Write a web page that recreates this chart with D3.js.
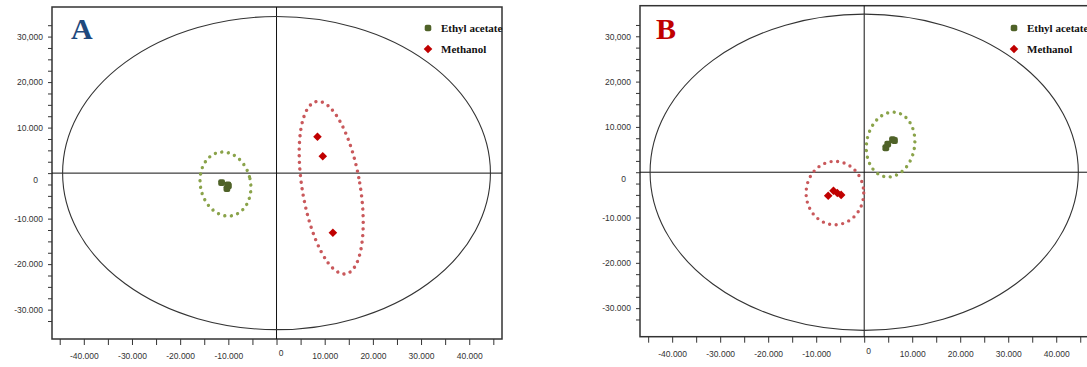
<!DOCTYPE html>
<html>
<head>
<meta charset="utf-8">
<script src="https://cdn.jsdelivr.net/npm/d3@7"></script>
<style>
  html, body { margin: 0; padding: 0; background: #fff; }
  svg { display: block; }
  .tick text { font-family: "Liberation Sans", Arial, sans-serif; font-size: 8.5px; fill: #333; }
  .tick line { stroke: #333; }
</style>
</head>
<body>
<div id="chart"></div>
<script>
// Series / legend
var seriesNames = ['Ethyl acetate', 'Methanol'];

// Panel A scores
var aEthylX = [-11400, -10100, -10300, -10000];
var aEthylY = [-2100, -2600, -3400, -2800];
var aMethX = [8500, 9600, 11700];
var aMethY = [8000, 3700, -13100];

// Panel B scores
var bEthylX = [4500, 4900, 5900, 6300];
var bEthylY = [5400, 6200, 7200, 7000];
var bMethX = [-7500, -6400, -5600, -4800];
var bMethY = [-5200, -4100, -4600, -5000];

// Group ellipses: [cx, cy, rx, ry, tilt in degrees]
var aEthylEll = [-10600, -2400, 5200, 7100, -12.5];
var aMethEll = [11350, -3200, 6000, 19200, -9.6];
var bEthylEll = [5500, 6100, 5000, 7200, 9.4];
var bMethEll = [-6100, -4600, 6000, 7000, 0];

// Hotelling T2 ellipse semi axes [a, b]
var aHotelling = [44400, 34400];
var bHotelling = [44600, 34900];

// Ticks
var xTickVals = [-40000, -30000, -20000, -10000, 0, 10000, 20000, 30000, 40000];
var xTickLabels = ['-40.000', '-30.000', '-20.000', '-10.000', '0', '10.000', '20.000', '30.000', '40.000'];
var yTickVals = [-30000, -20000, -10000, 0, 10000, 20000, 30000];
var yTickLabels = ['-30.000', '-20.000', '-10.000', '0', '10.000', '20,000', '30,000'];

var svg = d3.select('#chart').append('svg')
    .attr('width', 1087)
    .attr('height', 367);

function Panel(opts) {
    var g = svg.append('g');
    var x = d3.scaleLinear().domain(opts.xDomain).range([opts.left, opts.right]);
    var y = d3.scaleLinear().domain(opts.yDomain).range([opts.bottom, opts.top]);

    // minor ticks every 5000 on x, every 2500 on y
    var xMinor = d3.range(-45000, 45001, 5000);
    var yMinor = d3.range(-32500, 32501, 2500);

    var xAxis = d3.axisBottom(x)
        .tickValues(xMinor)
        .tickSize(6)
        .tickPadding(8)
        .tickFormat(function (d) {
            var i = xTickVals.indexOf(d);
            return i < 0 ? '' : xTickLabels[i];
        });
    var gx = g.append('g')
        .attr('transform', 'translate(0,' + opts.bottom + ')')
        .call(xAxis);
    gx.select('.domain').remove();
    gx.selectAll('.tick').filter(function (d) { return d === 0; })
        .select('text').attr('dx', 4).attr('dy', '0.4em');

    var yAxis = d3.axisLeft(y)
        .tickValues(yMinor)
        .tickSize(4)
        .tickPadding(5)
        .tickFormat(function (d) {
            var i = yTickVals.indexOf(d);
            return i < 0 ? '' : yTickLabels[i];
        });
    var gy = g.append('g')
        .attr('transform', 'translate(' + opts.left + ',0)')
        .call(yAxis);
    gy.select('.domain').remove();
    gy.selectAll('.tick').filter(function (d) { return d === 0; })
        .select('text').attr('dx', -5).attr('dy', '1.1em');

    // frame
    g.append('rect')
        .attr('x', opts.left)
        .attr('y', opts.top)
        .attr('width', opts.right - opts.left)
        .attr('height', opts.bottom - opts.top)
        .style('fill', 'none')
        .style('stroke', '#333')
        .style('stroke-width', 1.5);

    // zero lines
    g.append('line')
        .attr('x1', opts.left).attr('x2', opts.right)
        .attr('y1', y(0)).attr('y2', y(0))
        .style('stroke', '#111').style('stroke-width', 1);
    g.append('line')
        .attr('x1', x(0)).attr('x2', x(0))
        .attr('y1', opts.top).attr('y2', opts.bottom)
        .style('stroke', '#111').style('stroke-width', 1);

    // Hotelling ellipse
    g.append('ellipse')
        .attr('cx', x(0))
        .attr('cy', y(0))
        .attr('rx', x(opts.hotelling[0]) - x(0))
        .attr('ry', y(0) - y(opts.hotelling[1]))
        .style('fill', 'none')
        .style('stroke', '#333')
        .style('stroke-width', 1.1);

    // group ellipses (dotted)
    function groupEllipse(e, color) {
        g.append('ellipse')
            .attr('cx', 0).attr('cy', 0)
            .attr('rx', x(e[2]) - x(0))
            .attr('ry', y(0) - y(e[3]))
            .attr('transform', 'translate(' + x(e[0]) + ',' + y(e[1]) + ') rotate(' + e[4] + ')')
            .style('fill', 'none')
            .style('stroke', color)
            .style('stroke-width', 3.4)
            .style('stroke-linecap', 'round')
            .style('stroke-dasharray', '0 6.6');
    }
    groupEllipse(opts.ethylEll, '#8aa34a');
    groupEllipse(opts.methEll, '#c9585b');

    var diamond = 'M0,-4.3L4.3,0L0,4.3L-4.3,0Z';

    // points
    g.selectAll('.ethyl')
        .data(d3.zip(opts.ethylX, opts.ethylY))
        .enter().append('rect')
        .attr('class', 'ethyl')
        .attr('x', function (d) { return x(d[0]) - 3.4; })
        .attr('y', function (d) { return y(d[1]) - 3.4; })
        .attr('width', 6.8).attr('height', 6.8)
        .attr('rx', 2).attr('ry', 2)
        .style('fill', '#4f6228');

    g.selectAll('.meth')
        .data(d3.zip(opts.methX, opts.methY))
        .enter().append('path')
        .attr('class', 'meth')
        .attr('d', diamond)
        .attr('transform', function (d) { return 'translate(' + x(d[0]) + ',' + y(d[1]) + ')'; })
        .style('fill', '#c00000');

    // legend
    var lg = g.append('g').attr('transform', 'translate(' + opts.legendX + ',28)');
    lg.append('rect')
        .attr('x', -3.3).attr('y', -3.3)
        .attr('width', 6.6).attr('height', 6.6)
        .attr('rx', 2).attr('ry', 2)
        .style('fill', '#4f6228');
    lg.append('path')
        .attr('d', diamond)
        .attr('transform', 'translate(0,21)')
        .style('fill', '#c00000');
    lg.selectAll('text')
        .data(seriesNames)
        .enter().append('text')
        .attr('x', 13)
        .attr('y', function (d, i) { return i * 21 + 3.8; })
        .attr('font-family', '"Liberation Serif", "Times New Roman", serif')
        .attr('font-weight', 'bold')
        .attr('font-size', '11px')
        .attr('fill', '#111')
        .text(function (d) { return d; });

    // panel letter
    g.append('text')
        .attr('x', opts.letterX)
        .attr('y', 39)
        .attr('font-family', '"Liberation Serif", "Times New Roman", serif')
        .attr('font-weight', 'bold')
        .attr('font-size', '30px')
        .attr('fill', opts.letterColor)
        .text(opts.letter);
}

new Panel({
    left: 52, right: 502, top: 7, bottom: 339,
    xDomain: [-46600, 46800], yDomain: [-36450, 36500],
    hotelling: aHotelling,
    ethylX: aEthylX, ethylY: aEthylY, methX: aMethX, methY: aMethY,
    ethylEll: aEthylEll, methEll: aMethEll,
    legendX: 428, letter: 'A', letterX: 71, letterColor: '#1f497d'
});

new Panel({
    left: 640, right: 1088.4, top: 5.7, bottom: 336.7,
    xDomain: [-46700, 46700], yDomain: [-36300, 36750],
    hotelling: bHotelling,
    ethylX: bEthylX, ethylY: bEthylY, methX: bMethX, methY: bMethY,
    ethylEll: bEthylEll, methEll: bMethEll,
    legendX: 1014, letter: 'B', letterX: 656, letterColor: '#c00000'
});
</script>
</body>
</html>
